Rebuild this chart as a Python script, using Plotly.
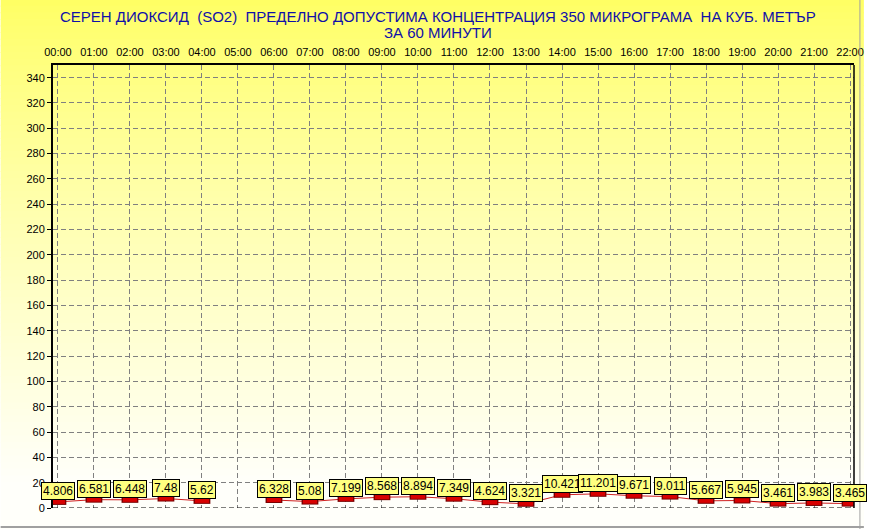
import plotly.graph_objects as go

hours = ["00:00", "01:00", "02:00", "03:00", "04:00", "05:00", "06:00", "07:00",
         "08:00", "09:00", "10:00", "11:00", "12:00", "13:00", "14:00", "15:00",
         "16:00", "17:00", "18:00", "19:00", "20:00", "21:00", "22:00"]
so2 = [4.806, 6.581, 6.448, 7.48, 5.62, None, 6.328, 5.08, 7.199, 8.568, 8.894,
       7.349, 4.624, 3.321, 10.421, 11.201, 9.671, 9.011, 5.667, 5.945, 3.461,
       3.983, 3.465]
y_ticks = list(range(0, 341, 20))
title_line1 = "СЕРЕН ДИОКСИД  (SO2)  ПРЕДЕЛНО ДОПУСТИМА КОНЦЕНТРАЦИЯ 350 МИКРОГРАМА  НА КУБ. МЕТЪР"
title_line2 = "ЗА 60 МИНУТИ"

xpos = list(range(len(hours)))
W, H = 874, 529
ml, mr, mt, mb = 53, 10, 65, 21
pw, ph = W - ml - mr, H - mt - mb

FONT = "Liberation Sans, Arial, sans-serif"


def px_x(px):
    return (px - ml) / pw


def px_y(py):
    return 1 + (mt - py) / ph


fig = go.Figure()
fig.add_trace(go.Scatter(x=xpos, y=so2, mode="lines", line=dict(color="#d02020", width=1),
                         connectgaps=False, hoverinfo="skip", showlegend=False))
fig.add_trace(go.Scatter(x=xpos, y=so2, mode="markers",
                         marker=dict(symbol="line-ew", size=12, line=dict(color="#7a0000", width=6)),
                         hoverinfo="skip", showlegend=False))
fig.add_trace(go.Scatter(x=xpos, y=so2, mode="markers",
                         marker=dict(symbol="line-ew", size=10, line=dict(color="#d80000", width=4)),
                         showlegend=False))

# background gradient (bands in paper coords)
shapes = []
n = 80
x0p, x1p = px_x(0), px_x(W)
y_top, y_bot = px_y(0), px_y(H)
top_c, bot_c = (255, 255, 100), (255, 255, 250)
for i in range(n):
    t = min(1.0, (i / (n - 1)) / 0.92) ** 0.85
    c = tuple(round(top_c[k] + (bot_c[k] - top_c[k]) * t) for k in range(3))
    ya = y_top - (y_top - y_bot) * i / n
    yb = y_top - (y_top - y_bot) * (i + 1) / n
    shapes.append(dict(type="rect", xref="paper", yref="paper", x0=x0p, x1=x1p, y0=yb, y1=ya + 0.002,
                       line=dict(width=0), fillcolor="rgb(%d,%d,%d)" % c, layer="below"))
# zero line dashed, right border
shapes.append(dict(type="line", xref="paper", yref="y", x0=0, x1=1, y0=0, y1=0,
                   line=dict(color="black", width=1, dash="5px,3px"), layer="above"))
shapes.append(dict(type="line", xref="paper", yref="paper", x0=1, x1=1, y0=0, y1=1,
                   line=dict(color="black", width=1.5), layer="above"))
# window frame edges
shapes.append(dict(type="line", xref="paper", yref="paper", x0=x0p, x1=x1p, y0=px_y(527), y1=px_y(527),
                   line=dict(color="#a0a0a0", width=2), layer="above"))
shapes.append(dict(type="line", xref="paper", yref="paper", x0=px_x(870), x1=px_x(870), y0=y_bot, y1=y_top,
                   line=dict(color="#a0a0a0", width=1), layer="above"))

annotations = []
for x, v in zip(xpos, so2):
    if v is None:
        continue
    annotations.append(dict(x=x, y=v, xref="x", yref="y", text=str(v), showarrow=False,
                            xanchor="center", yanchor="bottom", yshift=2,
                            font=dict(family=FONT, size=12, color="black"),
                            bgcolor="#ffff80", bordercolor="black", borderwidth=1, borderpad=1))
annotations.append(dict(x=px_x(443), y=px_y(16), xref="paper", yref="paper", text=title_line1,
                        showarrow=False, xanchor="center", yanchor="middle",
                        font=dict(family=FONT, size=15, color="#1010a8")))
annotations.append(dict(x=px_x(443), y=px_y(33), xref="paper", yref="paper", text=title_line2,
                        showarrow=False, xanchor="center", yanchor="middle",
                        font=dict(family=FONT, size=15, color="#1010a8")))

fig.update_layout(
    width=W, height=H,
    margin=dict(l=ml, r=mr, t=mt, b=mb, pad=0),
    paper_bgcolor="#ffffff", plot_bgcolor="rgba(0,0,0,0)",
    shapes=shapes, annotations=annotations,
    font=dict(family=FONT, size=11, color="black"),
    xaxis=dict(side="top", range=[-0.137, 22.11], tickmode="array", tickvals=xpos, ticktext=hours,
               showgrid=True, gridcolor="#808080", griddash="5px,3px", gridwidth=1,
               showline=True, linecolor="black", linewidth=2, zeroline=False,
               ticks="outside", ticklen=3, tickcolor="rgba(0,0,0,0)",
               tickfont=dict(family=FONT, size=11, color="black")),
    yaxis=dict(range=[0, 350], tickmode="array", tickvals=y_ticks,
               showgrid=True, gridcolor="#808080", griddash="5px,3px", gridwidth=1,
               showline=True, linecolor="black", linewidth=2, zeroline=False,
               ticks="outside", ticklen=4, tickcolor="black",
               tickfont=dict(family=FONT, size=11, color="black")),
)
fig.write_html("out.html", config={"displayModeBar": False},
               post_script="document.body.style.margin='0';document.body.style.overflow='hidden';")
